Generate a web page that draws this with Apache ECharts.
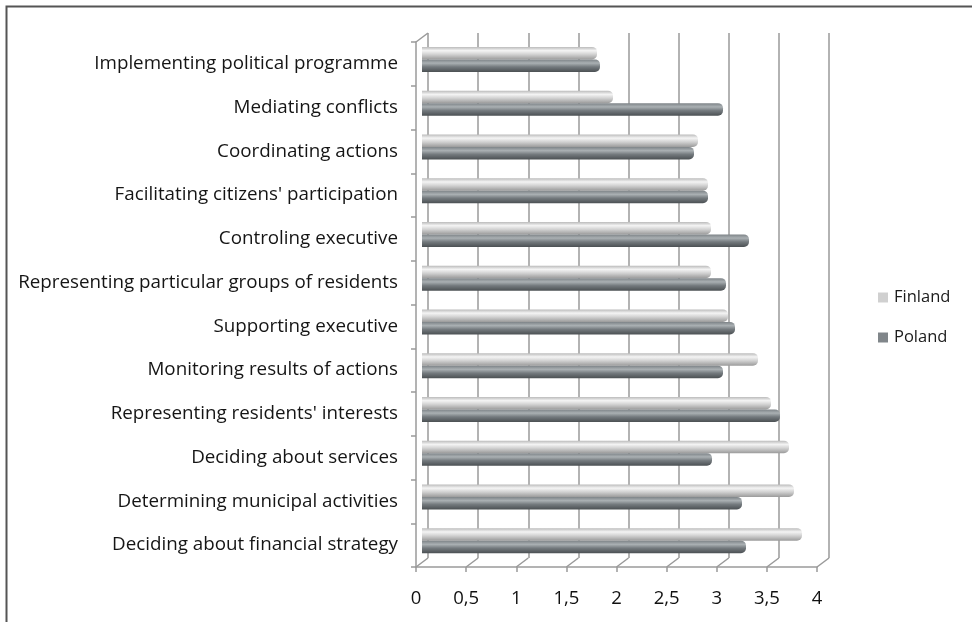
<!DOCTYPE html>
<html>
<head>
<meta charset="utf-8">
<script src="https://cdn.jsdelivr.net/npm/echarts@6/dist/echarts.min.js"></script>
<style>
  html, body { margin: 0; padding: 0; background: #fff; }
  #chart { width: 972px; height: 622px; }
</style>
</head>
<body>
<div id="chart"></div>
<script>
// Roles of councillors: mean ratings, Finland vs Poland
const categories = [
  'Implementing political programme',
  'Mediating conflicts',
  'Coordinating actions',
  "Facilitating citizens' participation",
  'Controling executive',
  'Representing particular groups of residents',
  'Supporting executive',
  'Monitoring results of actions',
  "Representing residents' interests",
  'Deciding about services',
  'Determining municipal activities',
  'Deciding about financial strategy'
];
const finland = [1.75, 1.91, 2.76, 2.86, 2.89, 2.89, 3.06, 3.36, 3.49, 3.67, 3.72, 3.80];
const poland  = [1.78, 3.01, 2.72, 2.86, 3.27, 3.04, 3.13, 3.01, 3.58, 2.90, 3.20, 3.24];
const xTicks = [0, 0.5, 1, 1.5, 2, 2.5, 3, 3.5, 4];

const FONT = '"Open Sans"';
const DEPTH_X = 12, DEPTH_Y = 9;

const chart = echarts.init(document.getElementById('chart'), null, { renderer: 'canvas' });

function cylinder(stops) {
  return new echarts.graphic.LinearGradient(0, 0, 0, 1,
    stops.map(s => ({ offset: s[0], color: s[1] })));
}

const finlandFill = cylinder([[0, '#b9b9b9'], [0.3, '#f4f4f4'], [0.6, '#d2d2d2'], [1, '#9c9c9c']]);
const polandFill  = cylinder([[0, '#7c8286'], [0.3, '#aab0b3'], [0.6, '#747a7e'], [1, '#4c5154']]);

const option = {
  backgroundColor: '#ffffff',
  animation: false,
  textStyle: { fontFamily: FONT },
  graphic: [{
    type: 'rect',
    shape: { x: 6.5, y: 6.5, width: 1000, height: 1000 },
    style: { fill: 'none', stroke: '#555', lineWidth: 2 },
    silent: true
  }],
  legend: {
    orient: 'vertical',
    left: 873, top: 284,
    itemWidth: 10, itemHeight: 10, itemGap: 23,
    icon: 'rect',
    textStyle: { fontFamily: FONT, fontSize: 16.5, color: '#1a1a1a', padding: [0, 0, 0, 1] },
    data: [
      { name: 'Finland', itemStyle: { color: '#d0d0d0' } },
      { name: 'Poland', itemStyle: { color: '#80868a' } }
    ]
  },
  grid: [
    // back wall
    { left: 428, top: 33, width: 401, height: 525 },
    // front frame with axis labels
    { left: 416, top: 42, width: 401, height: 525 },
    // bars, halfway in depth
    { left: 422, top: 37.5, width: 400, height: 525 }
  ],
  xAxis: [
    {
      gridIndex: 0, type: 'value', min: 0, max: 4, interval: 0.5,
      axisLine: { show: false }, axisTick: { show: false }, axisLabel: { show: false },
      splitLine: { show: true, lineStyle: { color: '#9a9a9a', width: 1.5 } }
    },
    {
      gridIndex: 1, type: 'value', min: 0, max: 4, interval: 0.5,
      axisLine: { show: true, lineStyle: { color: '#9a9a9a', width: 1.5 } },
      axisTick: { show: true, length: 5, lineStyle: { color: '#9a9a9a', width: 1.5 } },
      axisLabel: {
        fontFamily: FONT, fontSize: 18.5, color: '#111', margin: 22,
        formatter: v => String(v).replace('.', ',')
      },
      splitLine: { show: false }
    },
    {
      gridIndex: 2, type: 'value', min: 0, max: 4, show: false
    }
  ],
  yAxis: [
    { gridIndex: 0, type: 'category', data: categories, inverse: true, show: false },
    {
      gridIndex: 1, type: 'category', data: categories, inverse: true,
      axisLine: { show: true, lineStyle: { color: '#9a9a9a', width: 1.5 } },
      axisTick: { show: true, length: 5, lineStyle: { color: '#9a9a9a', width: 1.5 } },
      axisLabel: {
        fontFamily: FONT, fontSize: 18.8, color: '#151515', margin: 18,
        padding: [2, 0, 0, 0]
      },
      splitLine: { show: false }
    },
    { gridIndex: 2, type: 'category', data: categories, inverse: true, show: false }
  ],
  series: [
    {
      // floor edges linking the front axis to the back wall
      type: 'custom',
      xAxisIndex: 1, yAxisIndex: 1,
      silent: true,
      data: xTicks.map(v => [v, 0]),
      renderItem: function (params, api) {
        const cs = params.coordSys;
        const x = api.coord([api.value(0), 0])[0];
        const yb = cs.y + cs.height;
        const style = { stroke: '#9a9a9a', lineWidth: 1.5, fill: 'none' };
        const children = [{
          type: 'line',
          shape: { x1: x, y1: yb, x2: x + DEPTH_X, y2: yb - DEPTH_Y },
          style: style
        }];
        if (params.dataIndex === 0) {
          children.push({
            type: 'line',
            shape: { x1: cs.x, y1: cs.y, x2: cs.x + DEPTH_X, y2: cs.y - DEPTH_Y },
            style: style
          });
        }
        return { type: 'group', children: children };
      }
    },
    {
      name: 'Finland', type: 'bar',
      xAxisIndex: 2, yAxisIndex: 2,
      data: finland,
      barWidth: 12.5, barGap: '0%',
      itemStyle: { color: finlandFill, borderRadius: [0, 5, 5, 0] }
    },
    {
      name: 'Poland', type: 'bar',
      xAxisIndex: 2, yAxisIndex: 2,
      data: poland,
      barWidth: 12.5, barGap: '0%',
      itemStyle: { color: polandFill, borderRadius: [0, 5, 5, 0] }
    }
  ]
};

chart.setOption(option);
</script>
</body>
</html>
